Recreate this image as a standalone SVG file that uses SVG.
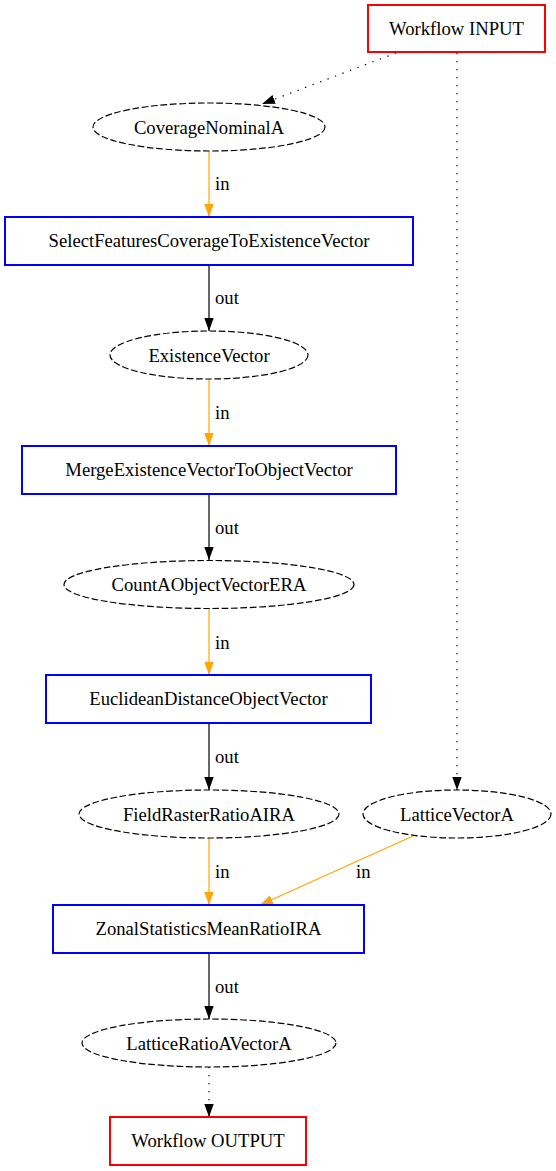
<svg xmlns="http://www.w3.org/2000/svg" width="556" height="1171" viewBox="0 0 556 1171">
<style>
text{font-family:"Liberation Serif","Times New Roman",serif;font-size:18.67px;fill:#000}
.t{text-anchor:middle}
.io{fill:#fff;stroke:#ff0000;stroke-width:2}
.proc{fill:#fff;stroke:#0000ff;stroke-width:2}
.data{fill:#fff;stroke:#000;stroke-width:1.2;stroke-dasharray:6.67,2.67}
.e{fill:none;stroke-width:1.2}
.blk{stroke:#000}
.org{stroke:#ffa500}
.dot{stroke:#000;stroke-dasharray:1.33,6.67}
</style>
<defs>
<marker id="ab" markerUnits="userSpaceOnUse" markerWidth="13" markerHeight="10" refX="13" refY="4.7" orient="auto"><path d="M0,0 L13,4.7 L0,9.4 z" fill="#000"/></marker>
<marker id="ao" markerUnits="userSpaceOnUse" markerWidth="13" markerHeight="10" refX="13" refY="4.7" orient="auto"><path d="M0,0 L13,4.7 L0,9.4 z" fill="#ffa500"/></marker>
</defs>
<rect width="556" height="1171" fill="#fff"/>
<g id="connectors">
<path class="e dot" d="M396,53 L262,104" marker-end="url(#ab)"/>
<path class="e dot" d="M457,53 L457,790" marker-end="url(#ab)"/>
<path class="e org" d="M209,151 L209,217" marker-end="url(#ao)"/>
<text x="215" y="190">in</text>
<path class="e blk" d="M209,265 L209,331" marker-end="url(#ab)"/>
<text x="215" y="304">out</text>
<path class="e org" d="M209,379 L209,446" marker-end="url(#ao)"/>
<text x="215" y="419">in</text>
<path class="e blk" d="M209,494 L209,560" marker-end="url(#ab)"/>
<text x="215" y="534">out</text>
<path class="e org" d="M209,608 L209,675" marker-end="url(#ao)"/>
<text x="215" y="649">in</text>
<path class="e blk" d="M209,723 L209,790" marker-end="url(#ab)"/>
<text x="215" y="763">out</text>
<path class="e org" d="M209,838 L209,905" marker-end="url(#ao)"/>
<text x="215" y="878">in</text>
<path class="e org" d="M413,836 L260,905" marker-end="url(#ao)"/>
<text x="356" y="878">in</text>
<path class="e blk" d="M209,953 L209,1019" marker-end="url(#ab)"/>
<text x="215" y="993">out</text>
<path class="e dot" d="M209,1067 L209,1117" marker-end="url(#ab)"/>
</g>
<g id="workflow_input"><rect class="io" x="368" y="5" width="177" height="47"/><text class="t" x="456.5" y="35">Workflow INPUT</text></g>
<g id="CoverageNominalA"><ellipse class="data" cx="209" cy="127" rx="116" ry="24"/><text class="t" x="209" y="133.5">CoverageNominalA</text></g>
<g id="SelectFeaturesCoverageToExistenceVector"><rect class="proc" x="5" y="217" width="408" height="48"/><text class="t" x="209" y="247">SelectFeaturesCoverageToExistenceVector</text></g>
<g id="ExistenceVector"><ellipse class="data" cx="209" cy="355" rx="99" ry="24"/><text class="t" x="209" y="361.5">ExistenceVector</text></g>
<g id="MergeExistenceVectorToObjectVector"><rect class="proc" x="22" y="446" width="374" height="48"/><text class="t" x="209" y="476">MergeExistenceVectorToObjectVector</text></g>
<g id="CountAObjectVectorERA"><ellipse class="data" cx="209" cy="584.5" rx="145" ry="24"/><text class="t" x="209" y="591">CountAObjectVectorERA</text></g>
<g id="EuclideanDistanceObjectVector"><rect class="proc" x="46" y="675" width="325" height="48"/><text class="t" x="208.5" y="705">EuclideanDistanceObjectVector</text></g>
<g id="FieldRasterRatioAIRA"><ellipse class="data" cx="209" cy="814" rx="130" ry="24"/><text class="t" x="209" y="820.5">FieldRasterRatioAIRA</text></g>
<g id="LatticeVectorA"><ellipse class="data" cx="457" cy="814" rx="94" ry="24"/><text class="t" x="457" y="820.5">LatticeVectorA</text></g>
<g id="ZonalStatisticsMeanRatioIRA"><rect class="proc" x="53" y="905" width="311" height="48"/><text class="t" x="208.5" y="935">ZonalStatisticsMeanRatioIRA</text></g>
<g id="LatticeRatioAVectorA"><ellipse class="data" cx="209" cy="1043" rx="127" ry="24"/><text class="t" x="209" y="1049.5">LatticeRatioAVectorA</text></g>
<g id="workflow_output"><rect class="io" x="110" y="1117" width="196" height="48"/><text class="t" x="208" y="1147">Workflow OUTPUT</text></g>
</svg>
